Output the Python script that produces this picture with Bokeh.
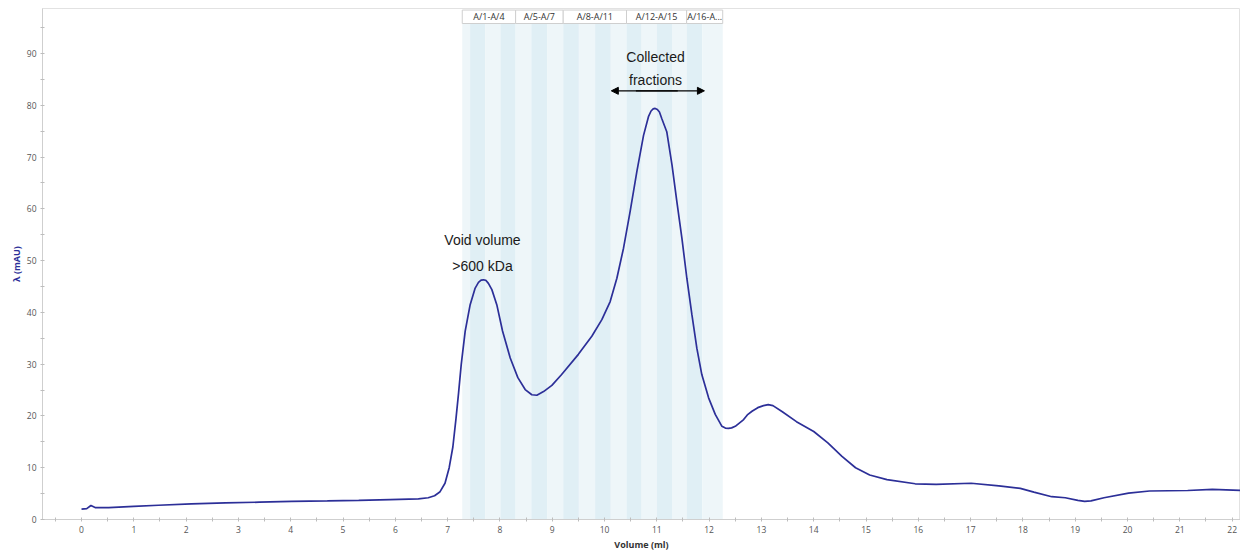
from bokeh.plotting import figure
from bokeh.models import Range1d, Label, Arrow, NormalHead, FixedTicker, ColumnDataSource
from bokeh.core.properties import value
from bokeh.embed import file_html
from bokeh.resources import INLINE

# ---- data ----
volume = [0.00, 0.10, 0.18, 0.26, 0.52, 1.00, 1.47, 2.10, 2.75, 3.40,
          4.02, 4.70, 5.30, 5.90, 6.44, 6.63, 6.75, 6.85, 6.95, 7.03,
          7.10, 7.16, 7.21, 7.26, 7.336, 7.431, 7.527, 7.59, 7.64, 7.686, 7.73, 7.78,
          7.846, 7.94, 8.05, 8.197, 8.343, 8.483, 8.61, 8.706, 8.834, 8.993,
          9.18, 9.50, 9.757, 9.949, 10.108, 10.236, 10.363, 10.49, 10.618, 10.746,
          10.84, 10.89, 10.93, 10.969, 11.01, 11.05, 11.096, 11.19, 11.29, 11.383, 11.48, 11.574, 11.67, 11.765,
          11.86, 11.99, 12.117, 12.245, 12.31, 12.37, 12.43, 12.50, 12.66, 12.73, 12.82, 12.93,
          13.04, 13.13, 13.22, 13.40, 13.67, 14.00, 14.27, 14.54, 14.80, 15.07, 15.40, 15.94,
          16.34, 17.01, 17.54, 17.95, 18.21, 18.55, 18.81, 19.05, 19.18, 19.30, 19.55, 20.02,
          20.42, 21.15, 21.62, 22.27]
absorbance = [2.0, 2.1, 2.7, 2.3, 2.3, 2.55, 2.75, 3.0, 3.2, 3.35,
              3.5, 3.6, 3.7, 3.85, 4.0, 4.2, 4.6, 5.3, 7.0, 10.0,
              14.0, 19.5, 24.5, 29.9, 36.4, 41.5, 44.7, 45.8, 46.25, 46.3, 46.2, 45.6,
              44.4, 41.5, 36.4, 31.2, 27.4, 25.1, 24.1, 24.0, 24.7, 25.9,
              28.0, 31.9, 35.4, 38.6, 42.1, 46.6, 52.4, 59.5, 67.2, 74.2,
              77.8, 78.9, 79.3, 79.4, 79.2, 78.7, 77.4, 74.9, 68.5, 61.4, 54.3, 46.6, 39.6, 33.1,
              28.0, 23.5, 20.3, 18.0, 17.65, 17.6, 17.7, 18.0, 19.3, 20.2, 20.9, 21.6,
              22.0, 22.2, 22.0, 20.8, 18.9, 17.0, 14.8, 12.2, 10.0, 8.6, 7.7, 6.9,
              6.8, 7.0, 6.5, 6.0, 5.3, 4.4, 4.2, 3.7, 3.5, 3.6, 4.2, 5.1,
              5.5, 5.6, 5.8, 5.6]

fraction_edges = [7.28, 7.43, 7.72, 8.01, 8.30, 8.60, 8.91, 9.21, 9.51, 9.82,
                  10.12, 10.42, 10.71, 11.00, 11.29, 11.57, 11.87, 12.26]
group_labels = ["A/1-A/4", "A/5-A/7", "A/8-A/11", "A/12-A/15", "A/16-A..."]
group_edges = [7.28, 8.30, 9.21, 10.42, 11.57, 12.26]

x_ticks = list(range(0, 23))
y_ticks = list(range(0, 100, 10))

FONT = "Open Sans"
LINE = "#2c2f98"

p = figure(frame_width=1198, frame_height=511,
           x_range=Range1d(-0.746, 22.16), y_range=Range1d(0, 98.7),
           output_backend="svg", toolbar_location=None,
           min_border_left=42, min_border_right=0, min_border_top=8, min_border_bottom=10)
p.background_fill_color = "white"
p.border_fill_color = "white"
p.outline_line_color = "#e2e2e2"
p.grid.visible = False

# fraction stripes
stripe_colors = ["#eef6f9" if i % 2 == 0 else "#e0eff5" for i in range(len(fraction_edges) - 1)]
p.quad(left=fraction_edges[:-1], right=fraction_edges[1:], bottom=0, top=95.8,
       fill_color=stripe_colors, line_color=None)

# header boxes
src_h = ColumnDataSource(dict(l=group_edges[:-1], r=group_edges[1:],
                              xc=[(a + b) / 2 for a, b in zip(group_edges[:-1], group_edges[1:])],
                              lab=group_labels))
p.quad(left="l", right="r", bottom=95.8, top=98.4, source=src_h,
       fill_color="white", line_color="#cfcfcf", line_width=1)
p.text(x="xc", y=97.1, text="lab", source=src_h, text_align="center", text_baseline="middle",
       text_font=value(FONT), text_font_size="9px", text_color="#333333")

# chromatogram
p.line(volume, absorbance, line_color=LINE, line_width=1.7)

# annotations
for txt, x, y in [("Void volume", 7.667, 54.0), (">600 kDa", 7.667, 49.0),
                  ("Collected", 10.975, 89.4), ("fractions", 10.975, 84.8)]:
    p.add_layout(Label(x=x, y=y, text=txt, text_align="center", text_baseline="middle",
                       text_font="Liberation Sans", text_font_size="14px",
                       text_color="#1a1a1a"))
p.add_layout(Arrow(x_start=10.6, x_end=11.91, y_start=82.8, y_end=82.8,
                   end=NormalHead(size=7, fill_color="black", line_color="black"),
                   line_color="black", line_width=1.2))
p.add_layout(Arrow(x_start=11.4, x_end=10.13, y_start=82.8, y_end=82.8,
                   end=NormalHead(size=7, fill_color="black", line_color="black"),
                   line_color="black", line_width=1.2))

# axes
for ax in (p.xaxis[0], p.yaxis[0]):
    ax.axis_line_color = "#cfcfcf"
    ax.major_tick_line_color = "#bdbdbd"
    ax.minor_tick_line_color = "#bdbdbd"
    ax.major_tick_in = 2
    ax.major_tick_out = 2
    ax.minor_tick_in = 2
    ax.minor_tick_out = 2
    ax.major_label_text_font = FONT
    ax.major_label_text_font_size = "8.5px"
    ax.major_label_text_color = "#555555"
    ax.axis_label_text_font = FONT
    ax.axis_label_text_font_size = "9px"
    ax.axis_label_text_font_style = "bold"

p.xaxis[0].ticker = FixedTicker(ticks=x_ticks, minor_ticks=[t + 0.5 for t in range(-1, 23)])
p.yaxis[0].ticker = FixedTicker(ticks=y_ticks, minor_ticks=[t + 5 for t in range(-10, 100, 10)])
p.xaxis[0].axis_label = "Volume (ml)"
p.xaxis[0].axis_label_text_color = "#333333"
p.xaxis[0].major_label_standoff = 4
p.xaxis[0].axis_label_standoff = 2
p.yaxis[0].axis_label = "λ (mAU)"
p.yaxis[0].axis_label_text_color = "#2c2f98"
p.yaxis[0].major_label_standoff = 4
p.yaxis[0].axis_label_standoff = 1

open("out.html", "w").write(file_html(p, INLINE))
